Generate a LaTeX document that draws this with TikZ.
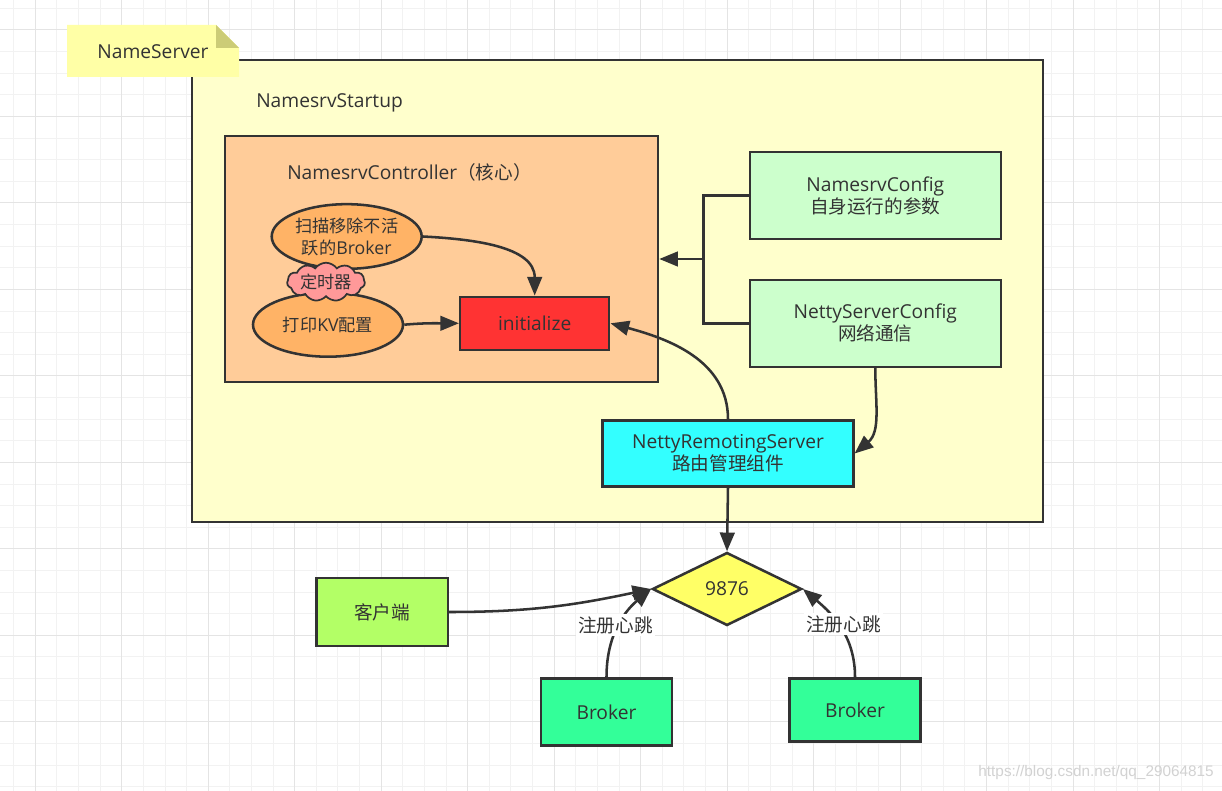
\documentclass[tikz,border=0pt]{standalone}
\usepackage{fontspec}
\setmainfont{Open Sans}
\newfontfamily\cjk[Scale=0.97]{Noto Sans CJK SC}
\newfontfamily\wmfont{Liberation Sans}
\usetikzlibrary{arrows.meta,shapes.geometric,shapes.symbols}
\definecolor{lc}{HTML}{333333}
\definecolor{tc}{HTML}{333333}
\definecolor{gmin}{HTML}{F2F2F2}
\definecolor{gmaj}{HTML}{E4E4E4}
\definecolor{notey}{HTML}{FFFFA6}
\definecolor{notef}{HTML}{CCCC77}
\definecolor{startc}{HTML}{FFFFCC}
\definecolor{ctrlc}{HTML}{FFCC99}
\definecolor{ellc}{HTML}{FFB366}
\definecolor{cloudc}{HTML}{FF9999}
\definecolor{initc}{HTML}{FF3333}
\definecolor{cfgc}{HTML}{CCFFCC}
\definecolor{nrsc}{HTML}{33FFFF}
\definecolor{diac}{HTML}{FFFF66}
\definecolor{cltc}{HTML}{B3FF66}
\definecolor{brkc}{HTML}{33FF99}
\definecolor{wmc}{HTML}{D2D2D2}
\newcommand\myfs{\fontsize{14.4}{16.5}\selectfont}
\newcommand\mysmallfs{\fontsize{13.3}{16.5}\selectfont}
\tikzset{
  box/.style={draw=lc, line width=1.9pt, text=tc, align=center, inner sep=0pt, font=\myfs},
  txt/.style={text=tc, align=center, inner sep=0pt, font=\myfs},
  ln/.style={draw=lc, line width=1.9pt},
  arr/.style={draw=lc, line width=1.9pt, -{Triangle[length=14pt,width=11pt]}},
  lbl/.style={fill=white, text=tc, inner sep=1.5pt, font=\myfs},
}
\begin{document}
\begin{tikzpicture}[x=0.75pt,y=-0.75pt]
\fill[white] (0,0) rectangle (1222,791);
\useasboundingbox (0,0) rectangle (1222,791);
% grid
\foreach \k in {-1,...,54} {
  \pgfmathsetmacro\xx{35.3+\k*21.62}
  \draw[gmin, line width=0.75pt] (\xx,0) -- (\xx,791);
}
\foreach \k in {-1,...,36} {
  \pgfmathsetmacro\yy{30+\k*21.62}
  \draw[gmin, line width=0.75pt] (0,\yy) -- (1222,\yy);
}
\foreach \k in {0,4,...,52} {
  \pgfmathsetmacro\xx{35.3+\k*21.62}
  \draw[gmaj, line width=0.75pt] (\xx,0) -- (\xx,791);
}
\foreach \k in {0,4,...,32} {
  \pgfmathsetmacro\yy{30+\k*21.62}
  \draw[gmaj, line width=0.75pt] (0,\yy) -- (1222,\yy);
}
% outer container
\node[box, fill=startc, minimum width=638.25pt, minimum height=346.5pt] (startup) at (617.5,291) {};
\node[txt, anchor=west] (startlbl) at (256,103) {NamesrvStartup};
% note
\fill[notey] (67,25) -- (216,25) -- (239,48) -- (239,77) -- (67,77) -- cycle;
\fill[notef] (216,25) -- (239,48) -- (216,48) -- cycle;
\node[txt] (note) at (153,52) {NameServer};
% controller
\node[box, fill=ctrlc, minimum width=324.75pt, minimum height=184.5pt] (ctrl) at (441.5,259) {};
\node[txt, anchor=west] (ctrllbl) at (287,172) {NamesrvController{\cjk （核心）}};
\node[box, ellipse, fill=ellc, font=\mysmallfs, minimum width=112.5pt, minimum height=48.5pt] (e1) at (346.7,236.5) {{\cjk 扫描移除不活}\\{\cjk 跃的}Broker};
\node[box, ellipse, fill=ellc, font=\mysmallfs, minimum width=112.5pt, minimum height=48pt] (e2) at (328,324.7) {{\cjk 打印}KV{\cjk 配置}};
\node[box, cloud, cloud puffs=11, cloud puff arc=110, aspect=2.7, fill=cloudc, line width=1.3pt, inner sep=1pt, font=\mysmallfs, minimum width=58pt, minimum height=21pt] (timer) at (326,282) {\cjk 定时器};
\node[box, fill=initc, minimum width=111.75pt, minimum height=39.75pt] (init) at (534.7,323.3) {initialize};
% configs
\node[box, fill=cfgc, minimum width=188.25pt, minimum height=65.25pt] (nc) at (875.3,195.7) {NamesrvConfig\\{\cjk 自身运行的参数}};
\node[box, fill=cfgc, minimum width=188.25pt, minimum height=65.25pt] (nsc) at (875.3,323.3) {NettyServerConfig\\{\cjk 网络通信}};
\coordinate (j) at (703.3,259);
\draw[ln] (nc.west) -| (j);
\draw[ln] (nsc.west) -| (j);
\draw[arr] (j) -- (ctrl.east |- j);
% netty remoting server
\node[box, fill=nrsc, minimum width=188pt, minimum height=49.5pt] (nrs) at (728,453.5) {NettyRemotingServer\\{\cjk 路由管理组件}};
% diamond
\node[box, diamond, fill=diac, minimum width=112pt, minimum height=54.75pt, aspect=2] (dia) at (727,589) {9876};
% bottom nodes
\node[box, fill=cltc, minimum width=98.5pt, minimum height=50.75pt] (clt) at (382.3,612) {\cjk 客户端};
\node[box, fill=brkc, minimum width=98.5pt, minimum height=50.5pt] (b1) at (606.5,712) {Broker};
\node[box, fill=brkc, minimum width=98pt, minimum height=47.5pt] (b2) at (855,710) {Broker};
% connectors
\draw[arr] (e1.east) to[out=-3,in=90] (init.north);
\draw[arr] (e2.east) to[out=5,in=180] (init.west);
\draw[arr] (nrs.north) to[out=90,in=-15] (init.east);
\draw[arr] (nsc.south) to[out=-90,in=40] (nrs.east);
\draw[arr] (nrs.south) -- (dia.north);
\draw[arr] (clt.east) to[out=0,in=192] (dia.west);
\draw[arr] (b1.north) to[out=90,in=220] (dia.west);
\draw[arr] (b2.north) to[out=90,in=-40] (dia.east);
\node[lbl] (l1) at (615.4,625) {\cjk 注册心跳};
\node[lbl] (l2) at (843.6,624) {\cjk 注册心跳};
% watermark
\node[anchor=east, text=wmc, inner sep=0pt, font=\wmfont\fontsize{11.5}{13}\selectfont] (wm) at (1214,773) {https://blog.csdn.net/qq\_29064815};
\end{tikzpicture}
\end{document}
